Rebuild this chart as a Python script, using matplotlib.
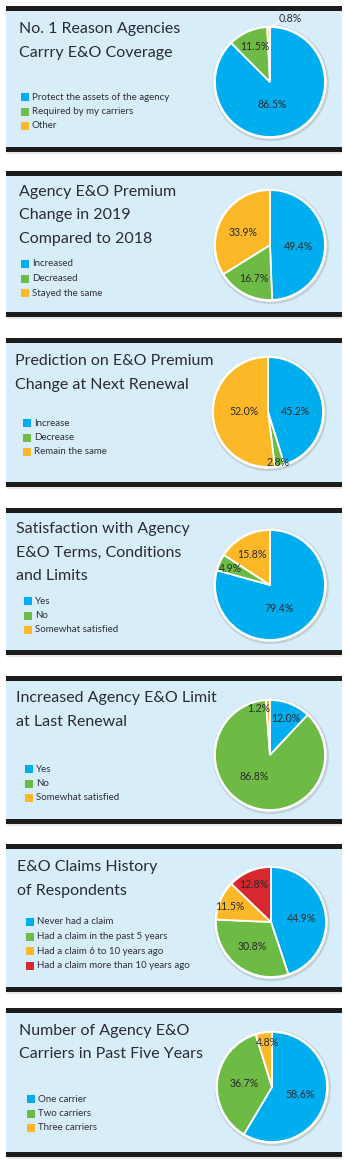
import matplotlib
matplotlib.use("Agg")
import matplotlib.pyplot as plt
from matplotlib.patches import Rectangle, Circle

plt.rcParams['font.family'] = ['Lato', 'DejaVu Sans']

# ---- survey data -------------------------------------------------------
titles = [
    "No. 1 Reason Agencies\nCarrry E&O Coverage",
    "Agency E&O Premium\nChange in 2019\nCompared to 2018",
    "Prediction on E&O Premium\nChange at Next Renewal",
    "Satisfaction with Agency\nE&O Terms, Conditions\nand Limits",
    "Increased Agency E&O Limit\nat Last Renewal",
    "E&O Claims History\nof Respondents",
    "Number of Agency E&O\nCarriers in Past Five Years",
]

labels_reason = ["Protect the assets of the agency", "Required by my carriers", "Other"]
values_reason = [86.5, 11.5, 0.8]

labels_premium = ["Increased", "Decreased", "Stayed the same"]
values_premium = [49.4, 16.7, 33.9]

labels_prediction = ["Increase", "Decrease", "Remain the same"]
values_prediction = [45.2, 2.8, 52.0]

labels_satisfaction = ["Yes", "No", "Somewhat satisfied"]
values_satisfaction = [79.4, 4.9, 15.8]

labels_limit = ["Yes", "No", "Somewhat satisfied"]
values_limit = [12.0, 86.8, 1.2]

labels_claims = ["Never had a claim", "Had a claim in the past 5 years",
                 "Had a claim 6 to 10 years ago", "Had a claim more than 10 years ago"]
values_claims = [44.9, 30.8, 11.5, 12.8]

labels_carriers = ["One carrier", "Two carriers", "Three carriers"]
values_carriers = [58.6, 36.7, 4.8]

series_labels = [labels_reason, labels_premium, labels_prediction, labels_satisfaction,
                 labels_limit, labels_claims, labels_carriers]
series_values = [values_reason, values_premium, values_prediction, values_satisfaction,
                 values_limit, values_claims, values_carriers]

# ---- layout (pixel units) ---------------------------------------------
W, H = 349, 1161
BLUE, GREEN, YELLOW, RED = "#00aeef", "#6dbb45", "#fdb827", "#d7282f"
palette = [BLUE, GREEN, YELLOW, RED]
PANEL_BG = "#d8edfa"
BAR = "#1c1c1c"
TEXT = "#2a2a38"

# (top bar y, bottom bar y)
panel_y = [(6, 147), (171, 312), (338, 482), (508, 650), (676, 819), (844, 987), (1008, 1152)]
pie_center = [(270, 82), (270, 245), (268, 412), (270, 585), (270, 755), (271, 922), (272, 1087)]
PIE_R = 55
title_xy = [(19, 29), (19, 192), (15, 361), (16, 529), (16, 698), (17, 867), (19, 1031)]
title_step = 23.5
legend_x = [21, 21, 23, 24, 25, 26, 27]
legend_y0 = [97, 264, 423, 601, 769, 922, 1099]
legend_step = 14.5
# percent label offsets from pie centre (pixels, y downward)
pct_offsets = [
    [(2, 23), (-15, -36), (20, -63)],
    [(28, 1), (-16, 34), (-27, -13)],
    [(27, -1), (10, 50), (-24, -1)],
    [(9, 24), (-40, -17), (-18, -31)],
    [(16, -37), (-16, 21), (-11, -46)],
    [(30, -3), (-19, 25), (-41, -15), (-17, -38)],
    [(28, 8), (-28, -3), (-5, -44)],
]

fig = plt.figure(figsize=(W / 100, H / 100), dpi=100)
fig.patch.set_facecolor("white")
bg = fig.add_axes([0, 0, 1, 1])
bg.set_xlim(0, W)
bg.set_ylim(H, 0)
bg.axis("off")

for i in range(7):
    top, bot = panel_y[i]
    # soft shadow under the card
    bg.add_patch(Rectangle((7, bot + 4), 335, 2.5, color="#e6e6e6", lw=0, zorder=0))
    bg.add_patch(Rectangle((6, top), 336, bot - top, color=PANEL_BG, lw=0, zorder=1))
    bg.add_patch(Rectangle((6, top), 336, 4.5, color=BAR, lw=0, zorder=2))
    bg.add_patch(Rectangle((6, bot), 336, 4.5, color=BAR, lw=0, zorder=2))

    tx, ty = title_xy[i]
    for k, line in enumerate(titles[i].split("\n")):
        bg.text(tx, ty + k * title_step, line, fontsize=11.5, color=TEXT,
                va="center", ha="left", zorder=3)

    for k, lab in enumerate(series_labels[i]):
        yy = legend_y0[i] + k * legend_step
        bg.add_patch(Rectangle((legend_x[i], yy - 4), 8, 8, color=palette[k], lw=0, zorder=3))
        bg.text(legend_x[i] + 11, yy, lab, fontsize=7.0, color="#2f2f3a",
                va="center", ha="left", zorder=3)

    # pie
    cx, cy = pie_center[i]
    pad = 1.12
    size = PIE_R * pad
    ax = fig.add_axes([(cx - size) / W, 1 - (cy + size) / H, 2 * size / W, 2 * size / H])
    ax.set_aspect("equal")
    ax.axis("off")
    ax.add_patch(Circle((0.015, -0.02), 1.055, color="#9a9a9a", alpha=0.35, lw=0, zorder=0))
    ax.add_patch(Circle((0, 0), 1.03, color="white", lw=0, zorder=0.5))
    vals = series_values[i]
    wedges, _ = ax.pie(
        vals, colors=palette[:len(vals)], startangle=90, counterclock=False,
        radius=1.0, normalize=True,
        wedgeprops=dict(edgecolor="white", linewidth=1.3))
    ax.set_xlim(-pad, pad)
    ax.set_ylim(-pad, pad)
    for v, (dx, dy) in zip(vals, pct_offsets[i]):
        ax.text(dx / PIE_R, -dy / PIE_R, f"{v:.1f}%", fontsize=7.6, color="#2a2a2a",
                ha="center", va="center", zorder=5)

    if i == 0:
        # leader line for the tiny "Other" slice
        ax.plot([-0.03, 0.18], [0.95, 1.12], color="white", lw=1.0, zorder=4,
                clip_on=False)

fig.savefig("out.png", dpi=100, facecolor="white")
